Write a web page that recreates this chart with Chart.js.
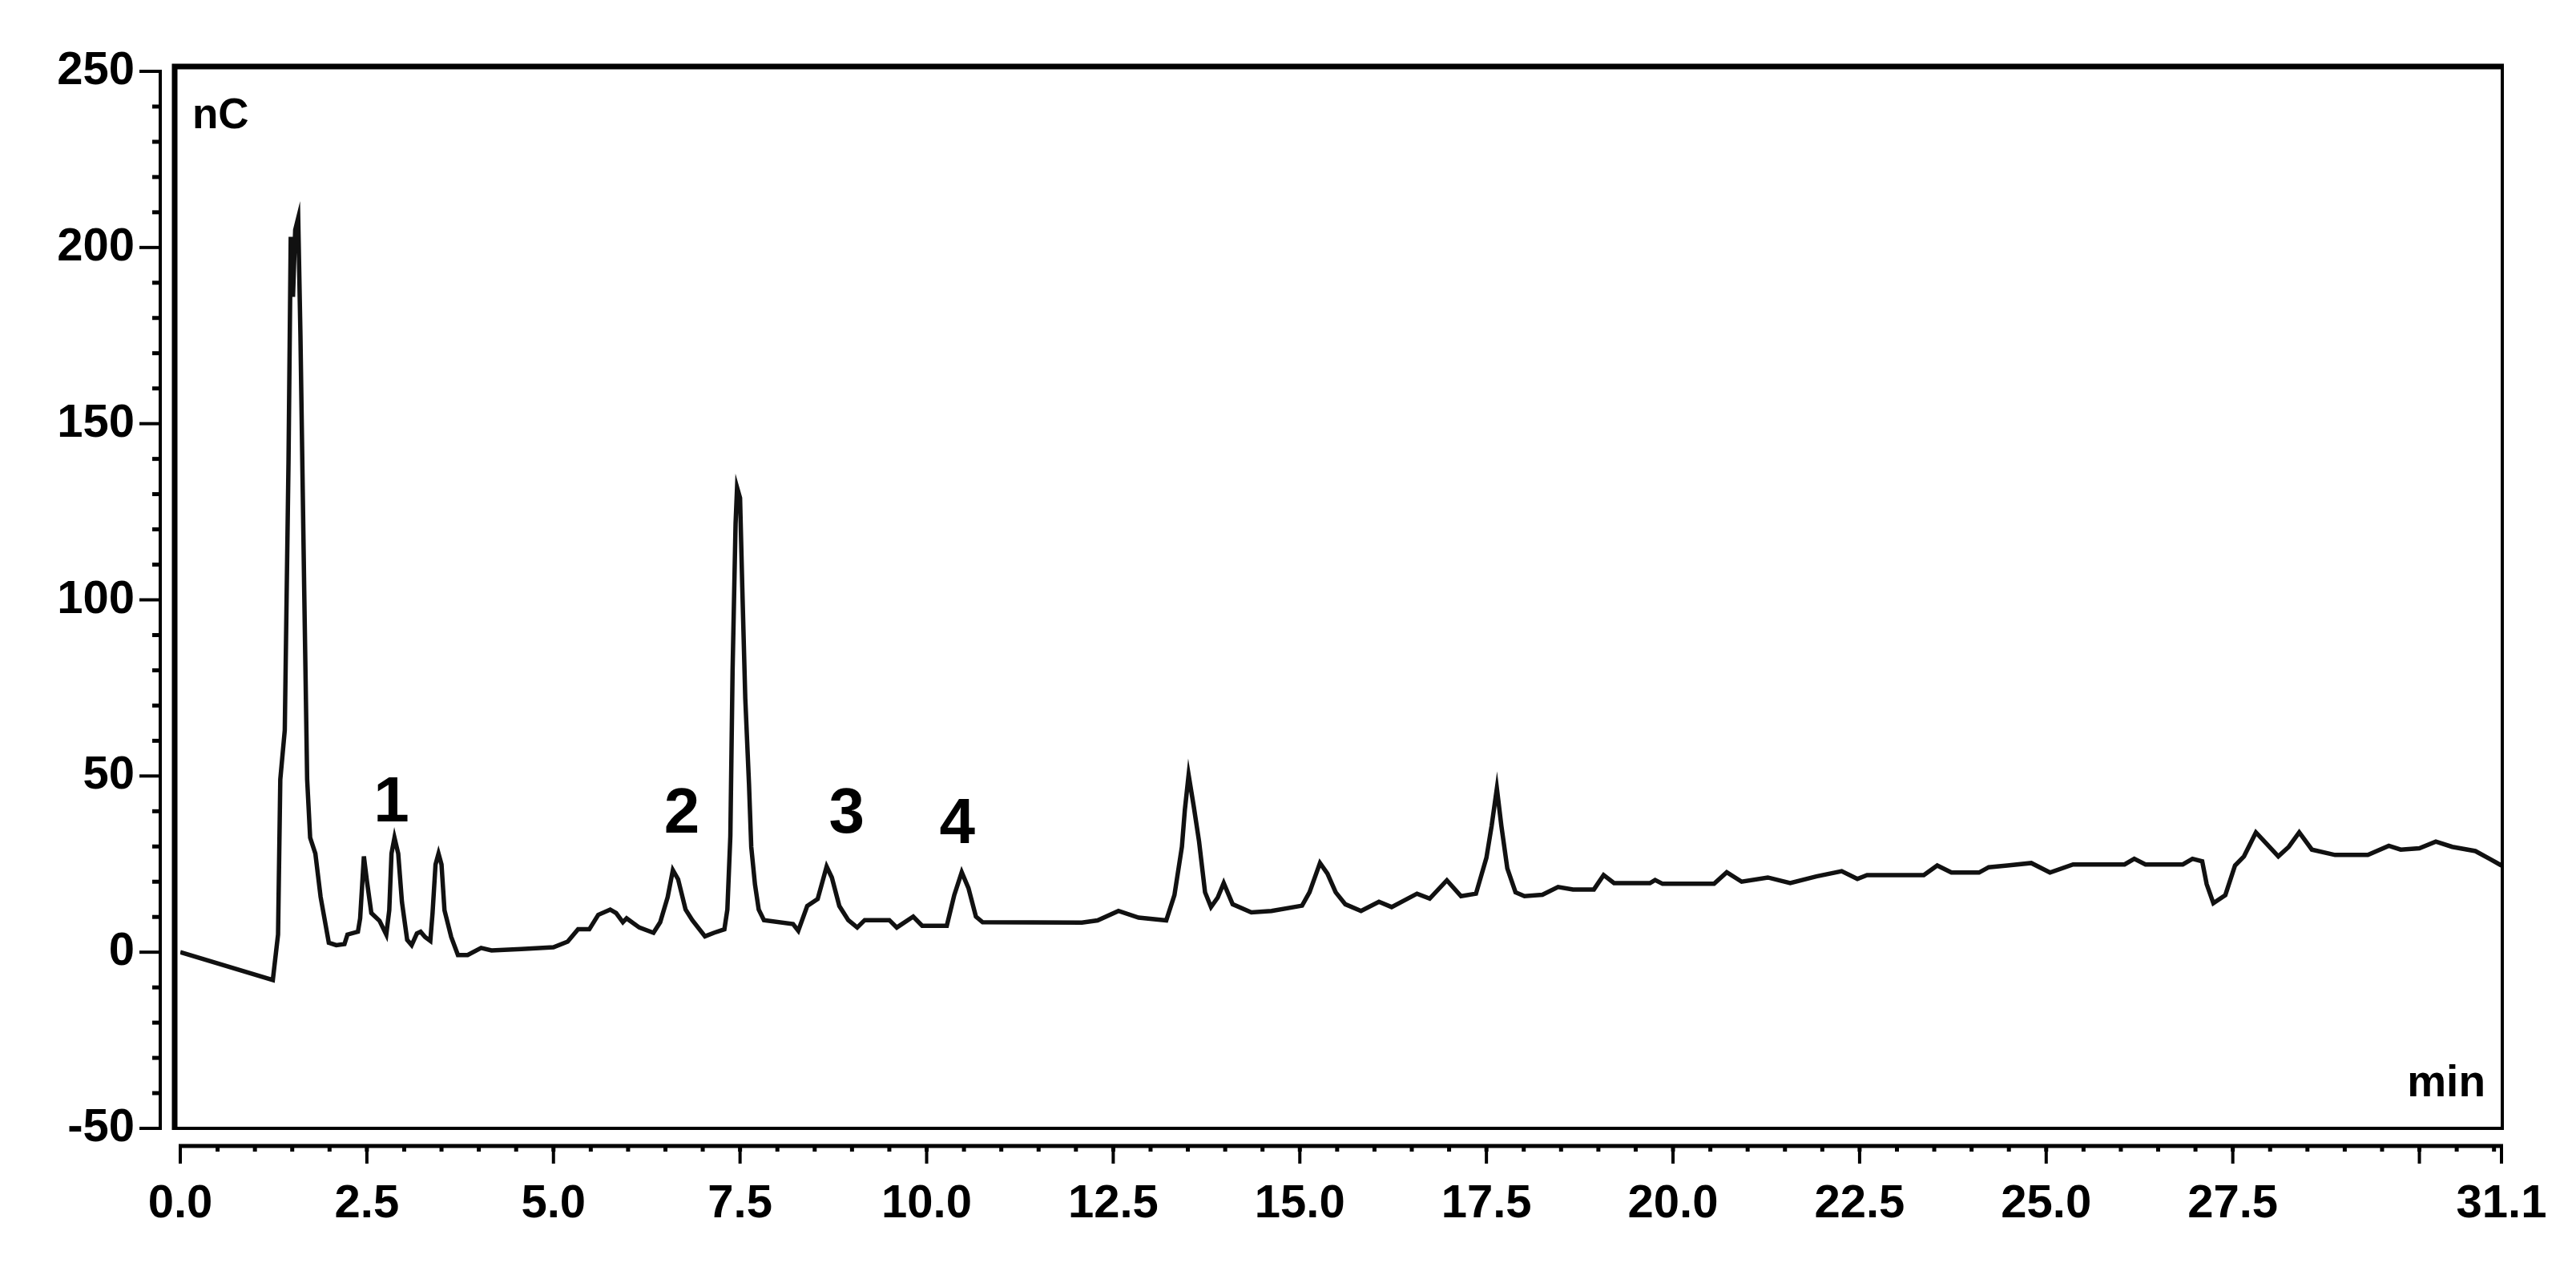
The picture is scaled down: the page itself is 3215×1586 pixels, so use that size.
<!DOCTYPE html>
<html>
<head>
<meta charset="utf-8">
<script src="https://cdn.jsdelivr.net/npm/chart.js@4.4.0/dist/chart.umd.min.js"></script>
<style>
  html, body { margin: 0; padding: 0; background: #fff; }
  #wrap { width: 3215px; height: 1586px; }
</style>
</head>
<body>
<div id="wrap"><canvas id="myChart"></canvas></div>
<script>
// chromatogram (min, nC)
const timeMin = [
  0.00, 1.24, 1.31, 1.34, 1.40, 1.45, 1.48, 1.51, 1.54, 1.58, 1.61, 1.66, 1.70, 1.74, 1.81, 1.88, 1.99,
  2.09, 2.20, 2.24, 2.38, 2.41, 2.46, 2.50, 2.56, 2.67, 2.76, 2.80, 2.83, 2.87, 2.92, 2.97,
  3.04, 3.10, 3.17, 3.22, 3.28, 3.35, 3.38, 3.42, 3.46, 3.50, 3.54, 3.63, 3.72, 3.85,
  4.03, 4.17, 4.57, 5.00, 5.19, 5.33, 5.48, 5.60, 5.76, 5.84, 5.93, 5.98,
  6.15, 6.34, 6.43, 6.53, 6.60, 6.67, 6.77, 6.86, 7.03, 7.15, 7.29, 7.33, 7.37, 7.40, 7.44, 7.46,
  7.50, 7.53, 7.57, 7.62, 7.65, 7.70, 7.75, 7.82, 8.21, 8.28, 8.40, 8.54, 8.66, 8.73, 8.83, 8.95,
  9.07, 9.17, 9.50, 9.60, 9.82, 9.94, 10.27, 10.37, 10.47, 10.56, 10.66, 10.75,
  12.08, 12.29, 12.57, 12.84, 13.21, 13.32, 13.42, 13.46, 13.51, 13.58, 13.65, 13.73, 13.81, 13.90, 13.98,
  14.10, 14.35, 14.62, 15.03, 15.13, 15.27, 15.37, 15.48, 15.61, 15.82, 16.06, 16.23, 16.57, 16.74, 16.97,
  17.16, 17.36, 17.50, 17.57, 17.64, 17.70, 17.78, 17.89, 18.01, 18.25, 18.46, 18.66, 18.94,
  19.07, 19.21, 19.69, 19.76, 19.86, 20.55, 20.72, 20.92, 21.27, 21.57, 21.92, 22.26, 22.47, 22.60,
  23.36, 23.54, 23.73, 24.10, 24.23, 24.48, 24.80, 25.05, 25.36, 26.05, 26.18, 26.33, 26.83, 26.96,
  27.09, 27.15, 27.24, 27.40, 27.53, 27.65, 27.81, 27.96, 28.11, 28.25, 28.39, 28.56, 28.87,
  29.31, 29.59, 29.75, 30.00, 30.22, 30.44, 30.75, 30.94, 31.10
];
const signal = [
  0.0, -7.9, 5.0, 49, 63, 139, 203, 186, 205, 208.4, 175, 103.5, 49, 32.5, 28, 15.7, 2.7,
  2.0, 2.3, 5.0, 5.8, 9.6, 27.2, 20.3, 11.1, 8.9, 5.0, 11.9, 28, 32.5, 28, 14.2,
  3.5, 2.0, 5.3, 5.8, 4.3, 3.2, 11.1, 24.9, 28, 24.9, 11.9, 4.3, -0.8, -0.8,
  1.2, 0.5, 0.9, 1.4, 3.0, 6.5, 6.5, 10.6, 12.1, 11.1, 8.5, 9.6,
  7.0, 5.5, 8.5, 15.6, 23.3, 20.7, 12.1, 9.1, 4.5, 5.5, 6.5, 12.1, 32.9, 80.1, 121.7, 131.9,
  128.9, 103.5, 72, 47.6, 29.9, 19.2, 12.1, 9.1, 8.0, 6.1, 13.1, 15.1, 24.3, 21.2, 13.1, 9.1,
  7.0, 9.1, 9.1, 7.0, 10.1, 7.5, 7.5, 16.2, 22.7, 18.2, 10.1, 8.5,
  8.4, 9.0, 11.7, 9.8, 9.0, 16.2, 29.9, 40.5, 50.3, 41.2, 31.4, 17.0, 12.8, 15.5, 19.6,
  13.6, 11.3, 11.7, 13.2, 17.0, 25.3, 22.3, 17.0, 13.6, 11.7, 14.3, 12.8, 16.6, 15.2, 20.4,
  15.9, 16.6, 26.8, 35.9, 46.5, 35.9, 23.8, 17.0, 15.9, 16.3, 18.5, 17.8, 17.8,
  21.9, 19.6, 19.6, 20.5, 19.4, 19.4, 22.7, 20.0, 21.2, 19.6, 21.5, 23.0, 20.8, 21.9,
  21.9, 24.6, 22.6, 22.6, 24.1, 24.6, 25.3, 22.6, 24.9, 24.9, 26.5, 24.9, 24.9, 26.5,
  25.8, 19.3, 13.9, 16.2, 24.6, 27.2, 34.0, 30.6, 27.2, 29.9, 34.0, 29.1, 27.6,
  27.6, 30.2, 29.1, 29.5, 31.4, 29.9, 28.7, 26.5, 24.6
];

const xTickValues = [0, 2.5, 5, 7.5, 10, 12.5, 15, 17.5, 20, 22.5, 25, 27.5, 31.1];
const xMajorMarks = [0, 2.5, 5, 7.5, 10, 12.5, 15, 17.5, 20, 22.5, 25, 27.5, 30, 31.1];

// peak numbers and where they sit (min, nC at text baseline)
const peakNames = ["1", "2", "3", "4"];
const peakX = [2.83, 6.72, 8.93, 10.41];
const peakY = [37.1, 33.9, 33.9, 30.9];

const labelFont = "'Liberation Sans', Arial, sans-serif";

const points = timeMin.map((t, i) => ({ x: t, y: signal[i] }));

// box, offset axes, tick marks and labels
const framePlugin = {
  id: "frame",
  afterDatasetsDraw(chart) {
    const { ctx, chartArea: a, scales } = chart;
    const xs = scales.x;
    const ys = scales.y;
    ctx.save();
    ctx.strokeStyle = "#000";
    ctx.fillStyle = "#000";
    ctx.lineCap = "butt";

    // plot box
    ctx.lineWidth = 7;
    ctx.beginPath();
    ctx.moveTo(a.left - 7, a.bottom + 2);
    ctx.lineTo(a.left - 7, a.top - 6);
    ctx.lineTo(a.right + 3, a.top - 6);
    ctx.stroke();
    ctx.lineWidth = 4;
    ctx.beginPath();
    ctx.moveTo(a.right + 1, a.top - 9);
    ctx.lineTo(a.right + 1, a.bottom);
    ctx.lineTo(a.left - 10, a.bottom);
    ctx.stroke();

    // y axis line and ticks
    const yAxisX = a.left - 25;
    ctx.lineWidth = 4;
    ctx.beginPath();
    ctx.moveTo(yAxisX, ys.getPixelForValue(250) - 2);
    ctx.lineTo(yAxisX, ys.getPixelForValue(-50) + 2);
    ctx.stroke();
    for (let v = -50; v <= 250; v += 10) {
      const py = ys.getPixelForValue(v);
      const len = v % 50 === 0 ? 26 : 10;
      ctx.lineWidth = v % 50 === 0 ? 4 : 5;
      ctx.beginPath();
      ctx.moveTo(yAxisX - len, py);
      ctx.lineTo(yAxisX, py);
      ctx.stroke();
    }

    // x axis line and ticks
    const xAxisY = a.bottom + 22;
    ctx.lineWidth = 5;
    ctx.beginPath();
    ctx.moveTo(xs.getPixelForValue(0) - 2, xAxisY);
    ctx.lineTo(xs.getPixelForValue(31.1) + 2, xAxisY);
    ctx.stroke();
    for (let v = 0.5; v < 31.1; v += 0.5) {
      const px = xs.getPixelForValue(v);
      ctx.lineWidth = 5;
      ctx.beginPath();
      ctx.moveTo(px, xAxisY);
      ctx.lineTo(px, xAxisY + 7);
      ctx.stroke();
    }
    xMajorMarks.forEach((v) => {
      const px = xs.getPixelForValue(v);
      ctx.lineWidth = 4;
      ctx.beginPath();
      ctx.moveTo(px, xAxisY);
      ctx.lineTo(px, xAxisY + 22);
      ctx.stroke();
    });

    // unit labels
    ctx.textBaseline = "alphabetic";
    ctx.font = "bold 53px " + labelFont;
    ctx.textAlign = "left";
    ctx.fillText("nC", a.left + 15, a.top + 71);
    ctx.font = "bold 55px " + labelFont;
    ctx.textAlign = "right";
    ctx.fillText("min", a.right - 20, a.bottom - 40);

    // peak numbers
    ctx.font = "bold 80px " + labelFont;
    ctx.textAlign = "center";
    peakNames.forEach((name, i) => {
      ctx.fillText(name, xs.getPixelForValue(peakX[i]), ys.getPixelForValue(peakY[i]));
    });
    ctx.restore();
  },
};

const myChart = document.getElementById("myChart").getContext("2d");
const chart1 = new Chart(myChart, {
  type: "line",
  data: {
    datasets: [
      {
        data: points,
        borderColor: "#111",
        borderWidth: 5.5,
        pointRadius: 0,
        tension: 0,
        fill: false,
      },
    ],
  },
  options: {
    responsive: true,
    maintainAspectRatio: false,
    animation: false,
    devicePixelRatio: 1,
    layout: { padding: { top: 89, right: 93, left: 0, bottom: 0 } },
    plugins: {
      legend: { display: false },
      title: { display: false },
      tooltip: { enabled: false },
    },
    scales: {
      x: {
        type: "linear",
        min: 0,
        max: 31.1,
        afterBuildTicks: (scale) => {
          scale.ticks = xTickValues.map((v) => ({ value: v }));
        },
        afterFit: (scale) => {
          scale.height = 178;
          scale.paddingLeft = 0;
          scale.paddingRight = 0;
        },
        ticks: {
          autoSkip: false,
          maxRotation: 0,
          padding: 60,
          color: "#000",
          font: { family: labelFont, size: 58, weight: "bold" },
          callback: (v) => Number(v).toFixed(1),
        },
        grid: { display: false, drawTicks: false },
        border: { display: false },
      },
      y: {
        min: -50,
        max: 250,
        afterFit: (scale) => {
          scale.width = 225;
          scale.paddingTop = 0;
          scale.paddingBottom = 0;
        },
        ticks: {
          stepSize: 50,
          padding: 57,
          color: "#000",
          font: { family: labelFont, size: 58, weight: "bold" },
        },
        grid: { display: false, drawTicks: false },
        border: { display: false },
      },
    },
  },
  plugins: [framePlugin],
});
</script>
</body>
</html>
